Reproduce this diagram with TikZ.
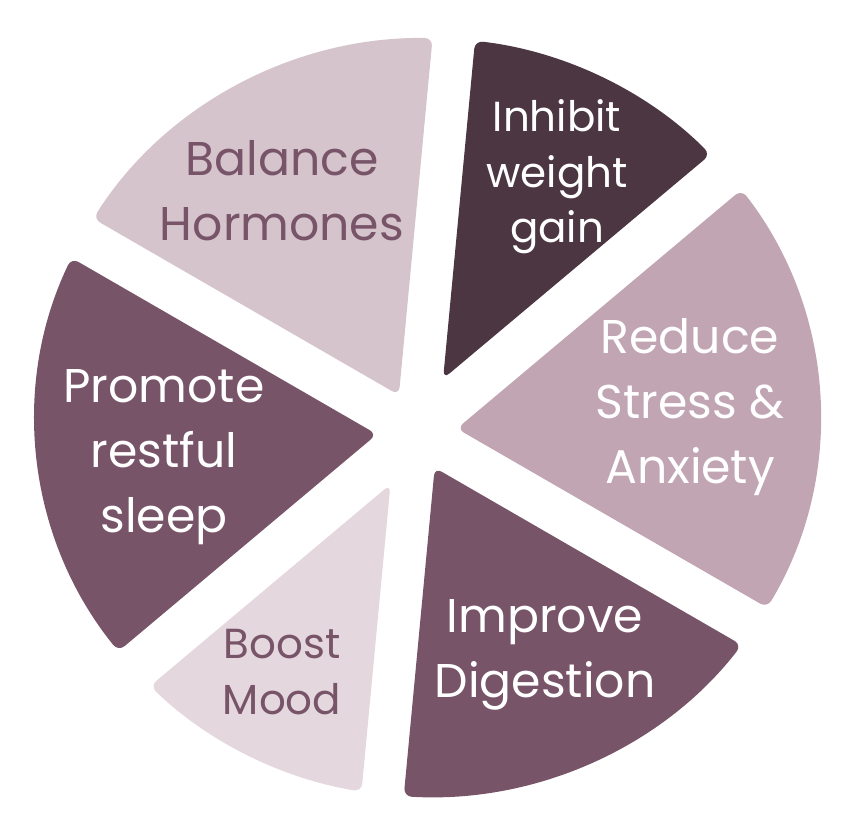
\documentclass[tikz,border=0pt]{standalone}
\usepackage{fontspec}
\setmainfont{Poppins}
\usepackage{tikz}

\definecolor{balanceclr}{RGB}{213,196,204}
\definecolor{inhibitclr}{RGB}{75,54,65}
\definecolor{reduceclr}{RGB}{193,165,179}
\definecolor{improveclr}{RGB}{120,84,105}
\definecolor{boostclr}{RGB}{228,215,222}

\begin{document}
\begin{tikzpicture}[x=0.75pt,y=0.75pt,yscale=-1,xscale=1,
  slice/.style={rounded corners=6pt},
  rim/.style={x radius=392.5,y radius=379.5},
  bigtext/.style={font=\fontsize{35.5}{48.75}\selectfont,align=center},
  smalltext/.style={font=\fontsize{31.5}{41.5}\selectfont,align=center}]
\useasboundingbox (0,0) rectangle (868,836);

%Shape: Sector [id:balance]
\fill [balanceclr,slice] (398.9,395.1) -- (93.2,218.6) arc [start angle=211.61,end angle=270.75,rim] -- cycle ;
%Shape: Sector [id:inhibit]
\fill [inhibitclr,slice] (443.1,378.8) -- (475.0,40.8) arc [start angle=-83.05,end angle=-43.88,rim] -- cycle ;
%Shape: Sector [id:reduce]
\fill [reduceclr,slice] (456.9,428.6) -- (741.5,189.7) arc [start angle=-36.88,end angle=30.08,rim] -- cycle ;
%Shape: Sector [id:improve]
\fill [improveclr,slice] (434.7,467.7) -- (741.7,645.0) arc [start angle=36.83,end angle=93.48,rim] -- cycle ;
%Shape: Sector [id:boost]
\fill [boostclr,slice] (390.5,484.3) -- (361.5,791.6) arc [start angle=99.68,end angle=134.96,rim] -- cycle ;
%Shape: Sector [id:promote]
\fill [improveclr,slice] (376.9,434.3) -- (118.4,651.3) arc [start angle=141.97,end angle=204.87,rim] -- cycle ;

% Text Node
\draw (282,191) node [bigtext,text=improveclr] (balancetxt) {Balance\\Hormones};
% Text Node
\draw (557,177) node [smalltext,text=white] (inhibittxt) {Inhibit\\weight\\gain};
% Text Node
\draw (690,407) node [bigtext,text=white] (reducetxt) {Reduce\\Stress \&\\Anxiety};
% Text Node
\draw (545,655) node [bigtext,text=white] (improvetxt) {Improve\\Digestion};
% Text Node
\draw (164,457) node [bigtext,text=white] (promotetxt) {Promote\\restful\\sleep};
% Text Node
\draw (282,672) node [smalltext,text=improveclr] (boosttxt) {Boost\\Mood};

\end{tikzpicture}
\end{document}
